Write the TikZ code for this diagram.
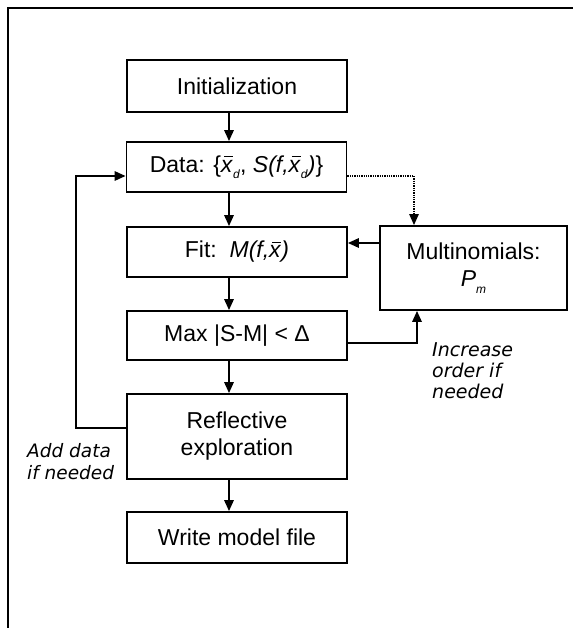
\documentclass[tikz,border=0pt]{standalone}
\usepackage{fontspec}
\setmainfont{Liberation Sans}
\newfontfamily\notefont{DejaVu Sans}
\usetikzlibrary{arrows.meta}

% x with a bar over it, and a small lowered italic subscript
\newcommand\barvar[1]{\makebox[0pt][l]{\raisebox{0.64em}{\kern0.14em\rule{0.38em}{0.06em}}}\textit{#1}}
\newcommand\lowsub[1]{\raisebox{-0.28em}{\fontsize{12}{12}\selectfont\textit{#1}}}

\tikzset{
  box/.style={draw, line width=1.9pt, minimum width=220pt, inner sep=0pt,
    align=center, font=\fontsize{23}{27}\selectfont},
  arr/.style={line width=1.7pt, -{Triangle[length=11pt,width=9.5pt]}},
  dotarr/.style={line width=1.3pt, densely dotted, -{Triangle[length=11pt,width=9.5pt]}},
  note/.style={font=\notefont\itshape\fontsize{19}{21}\selectfont, align=left,
    inner sep=0pt, anchor=north west},
}

\begin{document}
\begin{tikzpicture}[x=1pt, y=-1pt]
  \useasboundingbox (0,0) rectangle (573,628);

  % outer frame
  \draw[line width=1.8pt] (8,628) -- (8,8) -- (573,8);

  % process boxes
  \node[box, minimum height=52pt] (init) at (237,86) {Initialization};
  \node[box, minimum height=50pt] (data) at (236.5,167)
    {Data: \{\barvar{x}\lowsub{d}, \textit{S(f,}\barvar{x}\lowsub{d}\textit{)}\}};
  \node[box, minimum height=50pt] (fit) at (237,252)
    {Fit:\ \ \textit{M(f,}\barvar{x}\textit{)}};
  \node[box, minimum width=187pt, minimum height=84pt] (multi) at (473.5,268)
    {Multinomials:\\\textit{P}\lowsub{m}};
  \node[box, minimum height=49pt] (max) at (237,335.5) {Max |S-M| < Δ};
  \node[box, minimum height=85pt] (refl) at (237,436.5) {Reflective\\exploration};
  \node[box, minimum height=51pt] (write) at (237,537.5) {Write model file};

  % helper coordinates for the connector routes
  \coordinate (ax) at (229,0);
  \coordinate (fbx) at (76,0);
  \coordinate (dotx) at (414,0);
  \coordinate (upx) at (417,0);
  \coordinate (dataL) at ([yshift=-9pt]data.west);
  \coordinate (dataR) at ([yshift=-9pt]data.east);
  \coordinate (fitR) at ([yshift=9pt]fit.east);
  \coordinate (maxR) at ([yshift=-7.5pt]max.east);
  \coordinate (reflL) at ([yshift=8.5pt]refl.west);

  % main flow
  \draw[arr] (init.south -| ax) -- (data.north -| ax);
  \draw[arr] (data.south -| ax) -- (fit.north -| ax);
  \draw[arr] (fit.south -| ax) -- (max.north -| ax);
  \draw[arr] (max.south -| ax) -- (refl.north -| ax);
  \draw[arr] (refl.south -| ax) -- (write.north -| ax);

  % side loops
  \draw[dotarr] (dataR) -| (multi.north -| dotx);
  \draw[arr] (multi.west |- fitR) -- (fitR);
  \draw[arr] (maxR) -| (multi.south -| upx);
  \draw[arr] (reflL) -| (fbx |- dataL) -- (dataL);

  % loop labels
  \node[note] (inc) at (432,342) {Increase\\order if\\needed};
  \node[note, font=\notefont\itshape\fontsize{18.5}{22.5}\selectfont] (add) at (27,443)
    {Add data\\if needed};
\end{tikzpicture}
\end{document}
